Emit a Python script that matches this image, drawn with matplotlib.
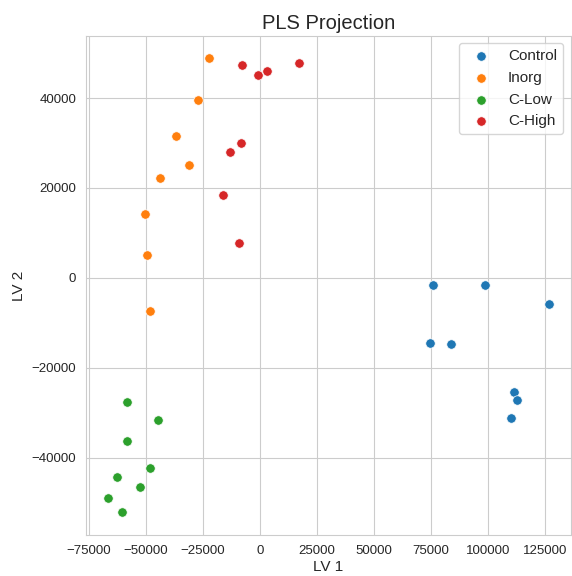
import matplotlib
matplotlib.use("Agg")
import matplotlib.pyplot as plt
import seaborn as sns

sns.set_style("whitegrid")
plt.rcParams['font.family'] = ['Liberation Sans', 'DejaVu Sans']

groups = ["Control", "Inorg", "C-Low", "C-High"]
colors = ["#1f77b4", "#ff7f0e", "#2ca02c", "#d62728"]

control_x = [75890, 98470, 126650, 74400, 83590, 111330, 112780, 110020]
control_y = [-1650, -1490, -5790, -14410, -14700, -25320, -27260, -31180]

inorg_x = [-22140, -27130, -36890, -30900, -43760, -50460, -49280, -48270]
inorg_y = [48840, 39640, 31540, 25080, 22120, 14250, 5120, -7280]

clow_x = [-58200, -44460, -58200, -48270, -62580, -52650, -66650, -60390]
clow_y = [-27620, -31560, -36240, -42320, -44320, -46640, -49090, -52200]

chigh_x = [-7700, -1010, 3240, 17070, -8320, -12950, -16020, -9320]
chigh_y = [47350, 45060, 46100, 47730, 30070, 27910, 18490, 7800]

xs = [control_x, inorg_x, clow_x, chigh_x]
ys = [control_y, inorg_y, clow_y, chigh_y]

fig = plt.figure(figsize=(5.72, 5.76), dpi=100)
ax = fig.add_axes([0.15, 0.071, 0.848, 0.867])

for name, c, x, y in zip(groups, colors, xs, ys):
    ax.scatter(x, y, color=c, label=name, s=46, edgecolor="white", linewidth=0.5)

ax.set_title("PLS Projection", fontsize=14.5, pad=5)
ax.set_xlabel("LV 1", fontsize=11, labelpad=2)
ax.set_ylabel("LV 2", fontsize=11)
ax.tick_params(labelsize=9.5)
ax.legend(loc="upper right", fontsize=11)

fig.savefig("out.png", dpi=100)
